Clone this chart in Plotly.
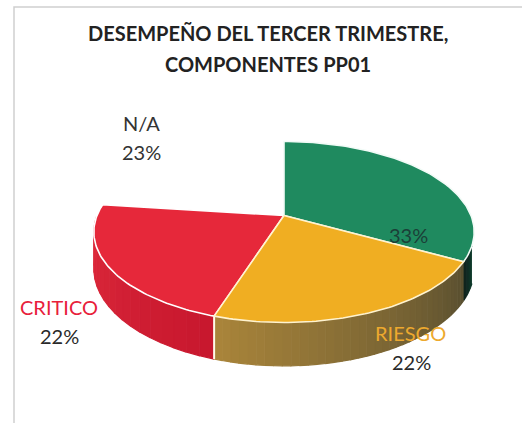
import numpy as np
import plotly.graph_objects as go

# Data
categories = ["", "RIESGO", "CRITICO", "N/A"]
values = [33, 22, 22, 23]
title_lines = ["DESEMPEÑO DEL TERCER TRIMESTRE,", "COMPONENTES PP01"]

# Styles
top_colors = ["#1F8A5F", "#F0AE22", "#E6283A", None]
edge_colors = ["#F2FBF7", "#FFF3CF", "#FFFFFF", None]
label_colors = ["#1B3F38", "#EDA92E", "#E8203A", "#333333"]
FONT = "Lato"
CX, CY, RX, RY, K, DEPTH = 284.0, 215.5, 187.0, 87.5, 0.182, 35.5


def project(theta_deg, r=1.0, down=0.0):
    """Tilted-disc projection; angle measured clockwise from 12 o'clock."""
    t = np.radians(np.asarray(theta_deg, dtype=float))
    X, Y = r * np.sin(t), r * np.cos(t)
    s = 1.0 / (1.0 + K * Y)
    return CX + RX * X * s, CY - RY * Y * s + down * s


def mix(a, b, f):
    pa = [int(a[i:i + 2], 16) for i in (1, 3, 5)]
    pb = [int(b[i:i + 2], 16) for i in (1, 3, 5)]
    return "#%02x%02x%02x" % tuple(round(x + (y - x) * f) for x, y in zip(pa, pb))


total = sum(values)
edges = np.concatenate([[0], np.cumsum(values)]) * 360.0 / total
fig = go.Figure()


def poly(x, y, fill, line=None, width=0):
    fig.add_trace(go.Scatter(
        x=list(x), y=list(y), mode="lines", fill="toself", fillcolor=fill,
        line=dict(color=line or fill, width=width if line else 1.2),
        hoverinfo="skip", showlegend=False))


def wall(a0, a1, c0, c1, n):
    grid = np.linspace(a0, a1, n + 1)
    for i in range(n):
        seg = np.linspace(grid[i], grid[i + 1], 5)
        xt, yt = project(seg)
        xb, yb = project(seg, down=DEPTH)
        poly(np.r_[xt, xb[::-1]], np.r_[yt, yb[::-1]], mix(c0, c1, i / max(n - 1, 1)))


# Side walls
wall(edges[0] + 109, edges[1], "#0F3A2C", "#10241E", 4)
wall(edges[1], edges[2], "#5A5030", "#A9843A", 36)
wall(edges[2], edges[3] - 8, "#C8182E", "#DE2A3C", 18)

# Seam on the front wall between RIESGO and CRITICO
xs, ys = project([edges[2], edges[2]], down=0), project([edges[2], edges[2]], down=DEPTH)
fig.add_trace(go.Scatter(x=[xs[0][0], ys[0][0]], y=[xs[1][0], ys[1][0]], mode="lines",
                         line=dict(color="#FFFBEA", width=2),
                         hoverinfo="skip", showlegend=False))

# Top faces
for i in [0, 2, 1]:
    arc = np.linspace(edges[i], edges[i + 1], 80)
    ax, ay = project(arc)
    poly(np.r_[CX, ax, CX], np.r_[CY, ay, CY], top_colors[i], edge_colors[i], 1.6)

# Labels
annotations = [
    dict(x=408, y=235, text=f"{values[0]}%", color=label_colors[0], size=20),
    dict(x=410, y=333, text=categories[1], color=label_colors[1], size=20),
    dict(x=411, y=362, text=f"{values[1]}%", color="#2A2A2A", size=20),
    dict(x=59, y=307, text=categories[2], color=label_colors[2], size=20),
    dict(x=59, y=336, text=f"{values[2]}%", color="#2A2A2A", size=20),
    dict(x=141, y=123, text=categories[3], color=label_colors[3], size=20),
    dict(x=141, y=152, text=f"{values[3]}%", color=label_colors[3], size=20),
    dict(x=267.5, y=33, text=f"<b>{title_lines[0]}</b>", color="#222222", size=20),
    dict(x=267.5, y=64, text=f"<b>{title_lines[1]}</b>", color="#222222", size=20),
]
fig.update_layout(
    width=522, height=423, margin=dict(l=0, r=0, t=0, b=0),
    paper_bgcolor="#FFFFFF", plot_bgcolor="#FFFFFF", showlegend=False,
    xaxis=dict(range=[0, 522], visible=False, fixedrange=True),
    yaxis=dict(range=[423, 0], visible=False, fixedrange=True),
    shapes=[dict(type="rect", xref="x", yref="y", x0=14, y0=7, x1=540, y1=440,
                 line=dict(color="#CFCFCF", width=1.5))],
    annotations=[dict(x=a["x"], y=a["y"], xref="x", yref="y", text=a["text"], showarrow=False,
                      font=dict(family=FONT, size=a["size"], color=a["color"])) for a in annotations],
)
fig.write_html("out.html", config=dict(displayModeBar=False),
               post_script="document.body.style.margin='0';document.documentElement.style.overflow='hidden';")
